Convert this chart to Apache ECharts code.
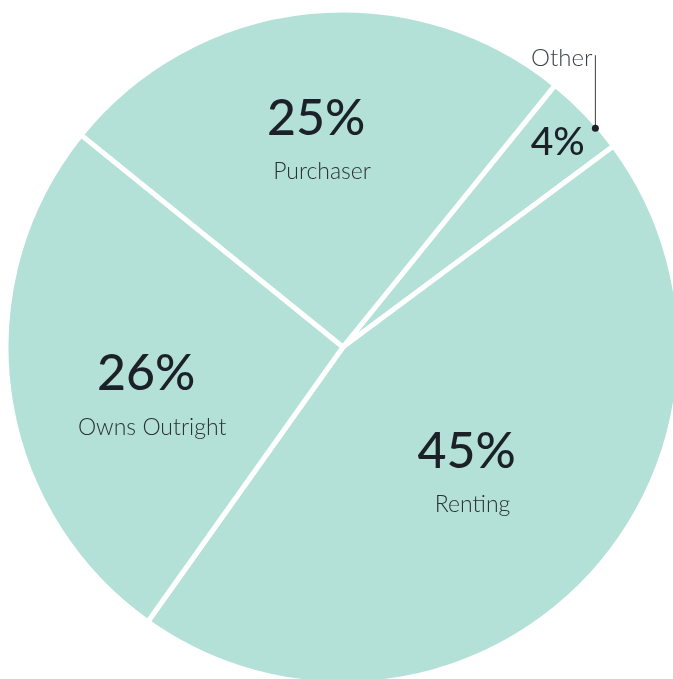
<!DOCTYPE html>
<html>
<head>
<meta charset="utf-8">
<script src="https://cdn.jsdelivr.net/npm/echarts@6/dist/echarts.min.js"></script>
<style>
    html, body { margin: 0; padding: 0; background: #fff; }
    #chart { width: 673px; height: 679px; }
</style>
</head>
<body>
<div id="chart"></div>
<script>
// 数据
var names = ['Other', 'Renting', 'Owns Outright', 'Purchaser'];
var values = [4, 45, 26, 25];

// 饼图几何
var cx = 343, cy = 347, R = 337;
var startAngle = 51;
// 标签微调（相对默认 inside 位置）
var labelShift = [[91, -86], [1, 4], [-27, 23], [-9, -39]];

var pieData = [];
for (var i = 0; i < names.length; i++) {
    pieData.push({ name: names[i], value: values[i] });
}

var chart = echarts.init(document.getElementById('chart'));

// Other 引线上的小圆点：放在该扇区靠右的位置，贴近外沿
var sum = 0;
for (var i = 0; i < values.length; i++) sum += values[i];
var dotDeg = startAngle - 360 * values[0] / sum * 0.7;
var dotX = cx + (R - 3) * Math.cos(dotDeg * Math.PI / 180);
var dotY = cy - (R - 3) * Math.sin(dotDeg * Math.PI / 180);

var option = {
    animation: false,
    backgroundColor: '#ffffff',
    textStyle: { fontFamily: 'Lato' },
    series: [{
        type: 'pie',
        center: [cx, cy],
        radius: [0, R],
        startAngle: startAngle,
        clockwise: true,
        silent: true,
        data: pieData,
        itemStyle: {
            color: '#b3e1d8',
            borderColor: '#ffffff',
            borderWidth: 5
        },
        label: {
            show: true,
            position: 'inside',
            formatter: function(p) {
                if (p.dataIndex === 0) return '{s|' + p.value + '%}';
                return '{p|' + p.value + '%}\n{n|' + p.name + '}';
            },
            rich: {
                p: { fontFamily: 'Lato', fontSize: 50, fontWeight: 500, color: '#1b2126', lineHeight: 68, align: 'center' },
                n: { fontFamily: 'Lato', fontSize: 23, fontWeight: 300, color: '#2b3035', lineHeight: 38, align: 'center', padding: [0, 0, 0, 12] },
                s: { fontFamily: 'Lato', fontSize: 39, fontWeight: 500, color: '#1b2126', align: 'center' }
            }
        },
        labelLayout: function(params) {
            var o = labelShift[params.dataIndex];
            return { dx: o[0], dy: o[1] };
        },
        labelLine: { show: false }
    }, {
        // 透明叠加层，只画 Other 的名称和引线
        type: 'pie',
        center: [cx, cy],
        radius: [0, R],
        startAngle: startAngle,
        clockwise: true,
        silent: true,
        z: 3,
        data: pieData.map(function(d, i) {
            return {
                name: d.name,
                value: d.value,
                label: { show: i === 0 },
                labelLine: { show: i === 0 }
            };
        }),
        itemStyle: { color: 'rgba(0,0,0,0)', borderWidth: 0 },
        label: {
            position: 'outside',
            formatter: '{b}',
            overflow: 'none',
            width: 80,
            fontFamily: 'Lato',
            fontSize: 24,
            fontWeight: 300,
            color: '#3a3f44'
        },
        labelLine: {
            length: 10,
            length2: 10,
            lineStyle: { color: '#3a3f44', width: 1 }
        },
        labelLayout: function(params) {
            if (params.dataIndex !== 0) return {};
            var top = [dotX, dotY - 73];
            return {
                x: dotX - 3,
                y: top[1] + 3,
                align: 'right',
                verticalAlign: 'middle',
                labelLinePoints: [[dotX, dotY], top, top]
            };
        }
    }],
    graphic: [{
        type: 'circle',
        z: 100,
        shape: { cx: dotX, cy: dotY, r: 3.5 },
        style: { fill: '#1b2126' },
        silent: true
    }]
};

chart.setOption(option);
</script>
</body>
</html>
